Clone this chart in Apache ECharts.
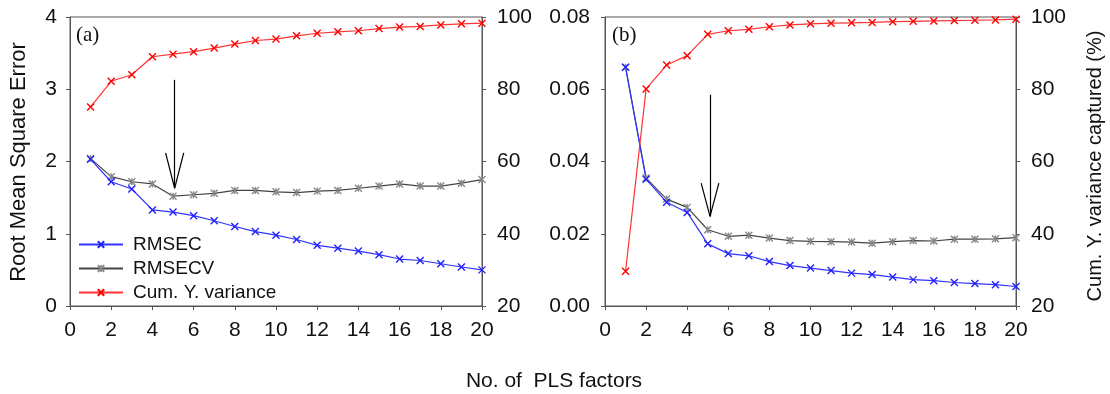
<!DOCTYPE html>
<html>
<head>
<meta charset="utf-8">
<script src="https://cdn.jsdelivr.net/npm/echarts@6/dist/echarts.min.js"></script>
<style>html,body{margin:0;padding:0;background:#fff}#c{width:1110px;height:394px}</style>
</head>
<body>
<div id="c"></div>
<script>
const factors = [1,2,3,4,5,6,7,8,9,10,11,12,13,14,15,16,17,18,19,20];
const xTicks = [0,2,4,6,8,10,12,14,16,18,20];
// Panel (a)
const rmsecA = [2.03,1.72,1.62,1.33,1.30,1.25,1.18,1.10,1.03,0.98,0.92,0.84,0.80,0.76,0.71,0.65,0.63,0.585,0.54,0.50];
const rmsecvA = [2.04,1.79,1.72,1.69,1.52,1.54,1.56,1.60,1.60,1.58,1.57,1.59,1.60,1.63,1.66,1.69,1.66,1.66,1.70,1.75];
const cumA = [75.1,82.2,84.0,89.0,89.7,90.4,91.4,92.5,93.5,93.9,94.8,95.5,95.9,96.2,96.8,97.2,97.4,97.8,98.1,98.3];
// Panel (b)
const rmsecB = [0.0661,0.0351,0.0287,0.0259,0.0172,0.0145,0.0139,0.0123,0.0112,0.0105,0.0098,0.0091,0.0087,0.0080,0.0073,0.0070,0.0065,0.0062,0.0059,0.0054];
const rmsecvB = [0.0661,0.0354,0.0296,0.0273,0.0211,0.0193,0.0196,0.0188,0.0181,0.0179,0.0178,0.0177,0.0174,0.0178,0.0181,0.0180,0.0185,0.0185,0.0186,0.0189];
const cumB = [29.6,80.1,86.7,89.3,95.2,96.2,96.6,97.3,97.8,98.1,98.3,98.4,98.5,98.7,98.8,98.9,99.0,99.1,99.2,99.4];
// Arrow annotations (data space): [x, top, headBase, tip, headHalfWidth]
const arrowA = [5.08, 3.13, 2.12, 1.63, 0.44];
const arrowB = [5.11, 0.0585, 0.0340, 0.0248, 0.43];
const seriesNames = ['RMSEC','RMSECV','Cum. Y. variance'];

const FONT = '"Liberation Sans", Arial, sans-serif';
const AX = '#555';
const X_SYM = 'path://M0,0L10,10M10,0L0,10';
const STAR_SYM = 'path://M0,0L10,10M10,0L0,10M5,0L5,10';

function pair(arr){ return factors.map((f,i)=>[f,arr[i]]); }
function arrowLines(a){
  const [x,top,base,tip,hw]=a;
  return [
    [{coord:[x,top]},{coord:[x,tip]}],
    [{coord:[x-hw,base]},{coord:[x,tip]}],
    [{coord:[x+hw,base]},{coord:[x,tip]}]
  ];
}
function xAxis(grid){
  return {type:'value',gridIndex:grid,min:0,max:20,interval:2,
    axisLine:{show:true,onZero:false,lineStyle:{color:AX,width:1}},
    axisTick:{show:true,inside:false,length:4,lineStyle:{color:AX}},
    axisLabel:{color:'#111',fontSize:21,fontFamily:FONT,margin:14},
    splitLine:{show:false}};
}
function yAxis(grid,pos,min,max,interval,margin,fmt){
  return {type:'value',gridIndex:grid,position:pos,min:min,max:max,interval:interval,
    axisLine:{show:true,onZero:false,lineStyle:{color:AX,width:1}},
    axisTick:{show:true,inside:false,length:4,lineStyle:{color:AX}},
    axisLabel:{color:'#111',fontSize:21,fontFamily:FONT,margin:margin,formatter:fmt},
    splitLine:{show:false}};
}
function line(name,xi,yi,data,color,symColor,sym,mark){
  const s={name:name,type:'line',xAxisIndex:xi,yAxisIndex:yi,data:pair(data),
    symbol:sym,symbolSize:7,showSymbol:true,
    lineStyle:{color:color,width:1.2},
    itemStyle:{color:'rgba(0,0,0,0)',borderColor:symColor,borderWidth:1.4},
    animation:false};
  if(mark){
    s.markLine={silent:true,symbol:['none','none'],label:{show:false},
      lineStyle:{color:'#000',width:1.2,type:'solid'},emphasis:{disabled:true},
      data:arrowLines(mark),animation:false};
  }
  return s;
}
const chart = echarts.init(document.getElementById('c'),null,{renderer:'canvas'});
chart.setOption({
  animation:false,
  backgroundColor:'#fff',
  grid:[
    {left:70,right:628,top:17,bottom:88,show:true,borderColor:AX,borderWidth:1,containLabel:false},
    {left:605,right:94,top:17,bottom:88,show:true,borderColor:AX,borderWidth:1,containLabel:false}
  ],
  xAxis:[xAxis(0),xAxis(1)],
  yAxis:[
    yAxis(0,'left',0,4,1,13),
    yAxis(0,'right',20,100,20,15),
    yAxis(1,'left',0,0.08,0.02,15,v=>v.toFixed(2)),
    yAxis(1,'right',20,100,20,15)
  ],
  legend:{
    data:seriesNames,orient:'vertical',left:73,top:230,itemGap:5,itemWidth:44,itemHeight:8,
    textStyle:{fontSize:19,fontFamily:FONT,color:'#111',padding:[0,0,0,5]},
    selectedMode:false
  },
  graphic:[
    {type:'text',left:76,top:25,style:{text:'(a)',font:'21px "Liberation Serif", "Times New Roman", serif',fill:'#111'}},
    {type:'text',left:612,top:25,style:{text:'(b)',font:'21px "Liberation Serif", "Times New Roman", serif',fill:'#111'}},
    {type:'text',x:19,y:162,rotation:Math.PI/2,style:{text:'Root Mean Square Error',font:'22px '+FONT,fill:'#111',align:'center',verticalAlign:'middle'}},
    {type:'text',x:1095,y:166,rotation:Math.PI/2,style:{text:'Cum. Y. variance captured (%)',font:'20px '+FONT,fill:'#111',align:'center',verticalAlign:'middle'}},
    {type:'text',x:554,y:381,style:{text:'No. of  PLS factors',font:'21px '+FONT,fill:'#111',align:'center',verticalAlign:'middle'}}
  ],
  series:[
    line('RMSECV',0,0,rmsecvA,'#444','#888',STAR_SYM,arrowA),
    line('RMSEC',0,0,rmsecA,'#3333ff','#2222ff',X_SYM),
    line('Cum. Y. variance',0,1,cumA,'#ff3333','#ff0000',X_SYM),
    line('RMSECV',1,2,rmsecvB,'#444','#888',STAR_SYM,arrowB),
    line('RMSEC',1,2,rmsecB,'#3333ff','#2222ff',X_SYM),
    line('Cum. Y. variance',1,3,cumB,'#ff3333','#ff0000',X_SYM)
  ]
});
</script>
</body>
</html>
